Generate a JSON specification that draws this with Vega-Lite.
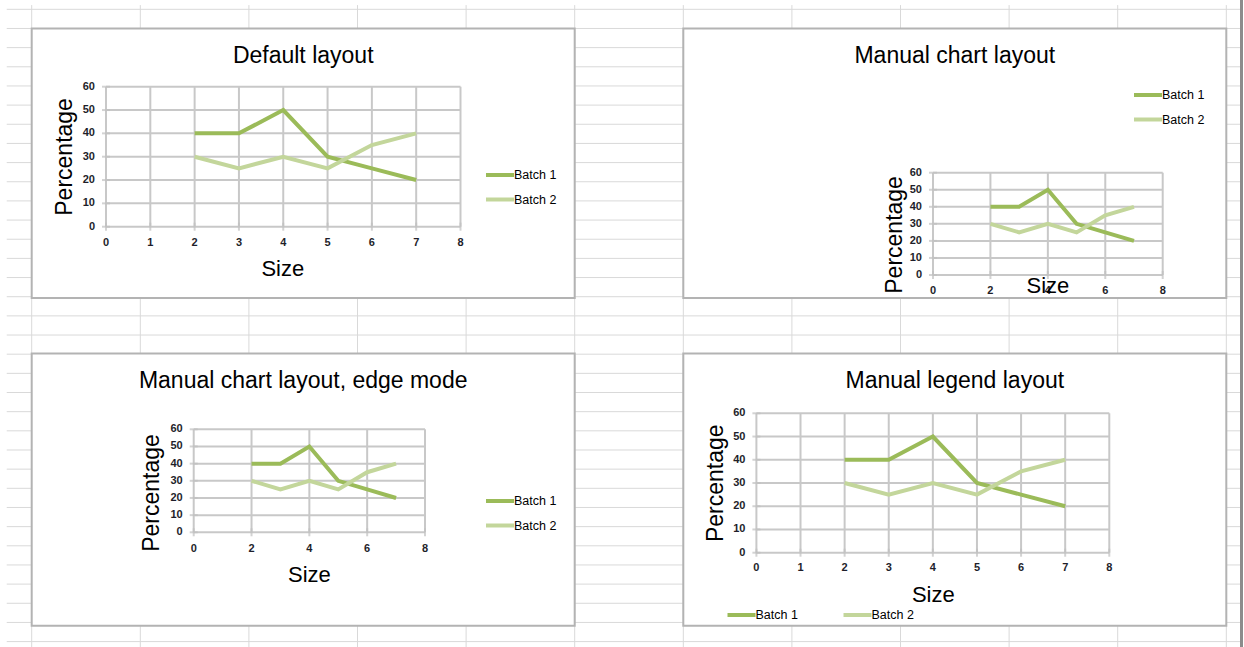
{
  "$schema": "https://vega.github.io/schema/vega-lite/v6.json",
  "width": 1244,
  "height": 647,
  "autosize": "none",
  "padding": 0,
  "background": "white",
  "config": {"view": {"stroke": null}, "font": "Liberation Sans"},
  "datasets": {
    "series": [
      {"Series": "Batch 1", "Size": 2, "Percentage": 40},
      {"Series": "Batch 1", "Size": 3, "Percentage": 40},
      {"Series": "Batch 1", "Size": 4, "Percentage": 50},
      {"Series": "Batch 1", "Size": 5, "Percentage": 30},
      {"Series": "Batch 1", "Size": 6, "Percentage": 25},
      {"Series": "Batch 1", "Size": 7, "Percentage": 20},
      {"Series": "Batch 2", "Size": 2, "Percentage": 30},
      {"Series": "Batch 2", "Size": 3, "Percentage": 25},
      {"Series": "Batch 2", "Size": 4, "Percentage": 30},
      {"Series": "Batch 2", "Size": 5, "Percentage": 25},
      {"Series": "Batch 2", "Size": 6, "Percentage": 35},
      {"Series": "Batch 2", "Size": 7, "Percentage": 40}
    ],
    "x1": [{"v": 0}, {"v": 1}, {"v": 2}, {"v": 3}, {"v": 4}, {"v": 5}, {"v": 6}, {"v": 7}, {"v": 8}],
    "x2": [{"v": 0}, {"v": 2}, {"v": 4}, {"v": 6}, {"v": 8}],
    "yv": [{"v": 0}, {"v": 10}, {"v": 20}, {"v": 30}, {"v": 40}, {"v": 50}, {"v": 60}],
    "cols": [{"col": 0}, {"col": 1}, {"col": 2}, {"col": 3}, {"col": 4}, {"col": 5}, {"col": 6}, {"col": 7}, {"col": 8}, {"col": 9}, {"col": 10}, {"col": 11}],
    "rows": [{"row": 0}, {"row": 1}, {"row": 2}, {"row": 3}, {"row": 4}, {"row": 5}, {"row": 6}, {"row": 7}, {"row": 8}, {"row": 9}, {"row": 10}, {"row": 11}, {"row": 12}, {"row": 13}, {"row": 14}, {"row": 15}, {"row": 16}, {"row": 17}, {"row": 18}, {"row": 19}, {"row": 20}, {"row": 21}, {"row": 22}, {"row": 23}, {"row": 24}, {"row": 25}, {"row": 26}, {"row": 27}, {"row": 28}, {"row": 29}, {"row": 30}, {"row": 31}, {"row": 32}, {"row": 33}],
    "boxes": [
      {"title": "Default layout", "col0": 0, "col1": 5, "row0": 1, "row1": 15.07},
      {"title": "Manual chart layout", "col0": 6, "col1": 11, "row0": 1, "row1": 15.07},
      {"title": "Manual chart layout, edge mode", "col0": 0, "col1": 5, "row0": 17.96, "row1": 32.17},
      {"title": "Manual legend layout", "col0": 6, "col1": 11, "row0": 17.96, "row1": 32.17}
    ]
  },
  "resolve": {"scale": {"x": "independent", "y": "independent", "color": "independent"}},
  "layer": [
    {
      "layer": [
        {"data": {"name": "cols"}, "mark": {"type": "rule", "color": "#d9d9d9", "strokeWidth": 1},
         "encoding": {"x": {"field": "col", "type": "quantitative", "scale": {"domain": [0, 11], "range": [31.7, 1226.3], "nice": false, "zero": false}, "axis": null},
                      "y": {"datum": -0.22, "type": "quantitative", "scale": {"domain": [0, 33], "range": [9.3, 641.6], "nice": false, "zero": false}, "axis": null},
                      "y2": {"datum": 33.3}}},
        {"data": {"name": "rows"}, "mark": {"type": "rule", "color": "#d9d9d9", "strokeWidth": 1},
         "encoding": {"y": {"field": "row", "type": "quantitative", "scale": {"domain": [0, 33], "range": [9.3, 641.6], "nice": false, "zero": false}, "axis": null},
                      "x": {"datum": -0.23, "type": "quantitative", "scale": {"domain": [0, 11], "range": [31.7, 1226.3], "nice": false, "zero": false}, "axis": null},
                      "x2": {"datum": 11.14}}},
        {"data": {"values": [{"edge": "sheet"}]}, "mark": {"type": "rule", "color": "#8c8c8c", "strokeWidth": 3},
         "encoding": {"x": {"datum": 11.14, "type": "quantitative", "scale": {"domain": [0, 11], "range": [31.7, 1226.3], "nice": false, "zero": false}, "axis": null},
                      "y": {"datum": -0.6, "type": "quantitative", "scale": {"domain": [0, 33], "range": [9.3, 641.6], "nice": false, "zero": false}, "axis": null},
                      "y2": {"datum": 33.5}}},
        {"data": {"name": "boxes"}, "mark": {"type": "rect", "fill": "white", "stroke": "#b3b3b3", "strokeWidth": 2},
         "encoding": {"x": {"field": "col0", "type": "quantitative", "scale": {"domain": [0, 11], "range": [31.7, 1226.3], "nice": false, "zero": false}, "axis": null},
                      "x2": {"field": "col1"},
                      "y": {"field": "row0", "type": "quantitative", "scale": {"domain": [0, 33], "range": [9.3, 641.6], "nice": false, "zero": false}, "axis": null},
                      "y2": {"field": "row1"}}},
        {"data": {"name": "boxes"}, "mark": {"type": "text", "fontSize": 23, "dx": 271.5, "dy": 28, "align": "center", "baseline": "middle", "color": "#000000"},
         "encoding": {"x": {"field": "col0", "type": "quantitative", "scale": {"domain": [0, 11], "range": [31.7, 1226.3], "nice": false, "zero": false}, "axis": null},
                      "y": {"field": "row0", "type": "quantitative", "scale": {"domain": [0, 33], "range": [9.3, 641.6], "nice": false, "zero": false}, "axis": null},
                      "text": {"field": "title"}}}
      ]
    },
    {
      "layer": [
        {"data": {"name": "x1"}, "mark": {"type": "rule", "color": "#c8c8c8", "strokeWidth": 2},
         "encoding": {"x": {"field": "v", "type": "quantitative", "scale": {"domain": [0, 8], "range": [106, 460.5], "nice": false, "zero": false}, "axis": null},
                      "y": {"datum": 0, "type": "quantitative", "scale": {"domain": [0, 60], "range": [226.7, 86.7], "nice": false, "zero": false}, "axis": null},
                      "y2": {"datum": 60}}},
        {"data": {"name": "yv"}, "mark": {"type": "rule", "color": "#c8c8c8", "strokeWidth": 2},
         "encoding": {"y": {"field": "v", "type": "quantitative", "scale": {"domain": [0, 60], "range": [226.7, 86.7], "nice": false, "zero": false}, "axis": null},
                      "x": {"datum": 0, "type": "quantitative", "scale": {"domain": [0, 8], "range": [106, 460.5], "nice": false, "zero": false}, "axis": null},
                      "x2": {"datum": 8}}},
        {"data": {"name": "yv"}, "mark": {"type": "tick", "orient": "horizontal", "size": 8, "thickness": 2, "color": "#c0c0c0"},
         "encoding": {"x": {"datum": 0, "type": "quantitative", "scale": {"domain": [0, 8], "range": [106, 460.5], "nice": false, "zero": false}, "axis": null},
                      "y": {"field": "v", "type": "quantitative", "scale": {"domain": [0, 60], "range": [226.7, 86.7], "nice": false, "zero": false}, "axis": null}}},
        {"data": {"name": "x1"}, "mark": {"type": "tick", "orient": "vertical", "size": 8, "thickness": 2, "color": "#c0c0c0"},
         "encoding": {"x": {"field": "v", "type": "quantitative", "scale": {"domain": [0, 8], "range": [106, 460.5], "nice": false, "zero": false}, "axis": null},
                      "y": {"datum": 0, "type": "quantitative", "scale": {"domain": [0, 60], "range": [226.7, 86.7], "nice": false, "zero": false}, "axis": null}}},
        {"data": {"name": "yv"}, "mark": {"type": "text", "align": "right", "baseline": "middle", "dx": -11, "fontSize": 11, "fontWeight": "bold", "color": "#1e1e2a"},
         "encoding": {"x": {"datum": 0, "type": "quantitative", "scale": {"domain": [0, 8], "range": [106, 460.5], "nice": false, "zero": false}, "axis": null},
                      "y": {"field": "v", "type": "quantitative", "scale": {"domain": [0, 60], "range": [226.7, 86.7], "nice": false, "zero": false}, "axis": null},
                      "text": {"field": "v", "type": "quantitative"}}},
        {"data": {"name": "x1"}, "mark": {"type": "text", "align": "center", "baseline": "middle", "dy": 16, "fontSize": 11, "fontWeight": "bold", "color": "#1e1e2a"},
         "encoding": {"x": {"field": "v", "type": "quantitative", "scale": {"domain": [0, 8], "range": [106, 460.5], "nice": false, "zero": false}, "axis": null},
                      "y": {"datum": 0, "type": "quantitative", "scale": {"domain": [0, 60], "range": [226.7, 86.7], "nice": false, "zero": false}, "axis": null},
                      "text": {"field": "v", "type": "quantitative"}}},
        {"data": {"name": "series"}, "mark": {"type": "line", "strokeWidth": 4},
         "encoding": {"x": {"field": "Size", "type": "quantitative", "scale": {"domain": [0, 8], "range": [106, 460.5], "nice": false, "zero": false}, "axis": null},
                      "y": {"field": "Percentage", "type": "quantitative", "scale": {"domain": [0, 60], "range": [226.7, 86.7], "nice": false, "zero": false}, "axis": null},
                      "color": {"field": "Series", "type": "nominal", "scale": {"domain": ["Batch 1", "Batch 2"], "range": ["#9bbb59", "#c3d69b"]},
                                "legend": {"orient": "none", "legendX": 484, "legendY": 159, "title": null, "symbolType": "stroke", "symbolSize": 784, "symbolStrokeWidth": 4, "labelOffset": -2, "labelFontSize": 12.5, "labelColor": "#000000", "rowPadding": 0.5, "padding": 0}}}},
        {"data": {"values": [{"t": "Percentage"}]}, "mark": {"type": "text", "angle": 270, "fontSize": 23, "align": "center", "baseline": "middle", "color": "#000000"},
         "encoding": {"x": {"datum": -0.925, "type": "quantitative", "scale": {"domain": [0, 8], "range": [106, 460.5], "nice": false, "zero": false}, "axis": null},
                      "y": {"datum": 29.9, "type": "quantitative", "scale": {"domain": [0, 60], "range": [226.7, 86.7], "nice": false, "zero": false}, "axis": null},
                      "text": {"field": "t"}}},
        {"data": {"values": [{"t": "Size"}]}, "mark": {"type": "text", "fontSize": 22, "align": "center", "baseline": "middle", "color": "#000000"},
         "encoding": {"x": {"datum": 3.99, "type": "quantitative", "scale": {"domain": [0, 8], "range": [106, 460.5], "nice": false, "zero": false}, "axis": null},
                      "y": {"datum": -18.1, "type": "quantitative", "scale": {"domain": [0, 60], "range": [226.7, 86.7], "nice": false, "zero": false}, "axis": null},
                      "text": {"field": "t"}}}
      ]
    },
    {
      "layer": [
        {"data": {"name": "x2"}, "mark": {"type": "rule", "color": "#c8c8c8", "strokeWidth": 2},
         "encoding": {"x": {"field": "v", "type": "quantitative", "scale": {"domain": [0, 8], "range": [933, 1162.7], "nice": false, "zero": false}, "axis": null},
                      "y": {"datum": 0, "type": "quantitative", "scale": {"domain": [0, 60], "range": [275, 172.7], "nice": false, "zero": false}, "axis": null},
                      "y2": {"datum": 60}}},
        {"data": {"name": "yv"}, "mark": {"type": "rule", "color": "#c8c8c8", "strokeWidth": 2},
         "encoding": {"y": {"field": "v", "type": "quantitative", "scale": {"domain": [0, 60], "range": [275, 172.7], "nice": false, "zero": false}, "axis": null},
                      "x": {"datum": 0, "type": "quantitative", "scale": {"domain": [0, 8], "range": [933, 1162.7], "nice": false, "zero": false}, "axis": null},
                      "x2": {"datum": 8}}},
        {"data": {"name": "yv"}, "mark": {"type": "tick", "orient": "horizontal", "size": 8, "thickness": 2, "color": "#c0c0c0"},
         "encoding": {"x": {"datum": 0, "type": "quantitative", "scale": {"domain": [0, 8], "range": [933, 1162.7], "nice": false, "zero": false}, "axis": null},
                      "y": {"field": "v", "type": "quantitative", "scale": {"domain": [0, 60], "range": [275, 172.7], "nice": false, "zero": false}, "axis": null}}},
        {"data": {"name": "x2"}, "mark": {"type": "tick", "orient": "vertical", "size": 8, "thickness": 2, "color": "#c0c0c0"},
         "encoding": {"x": {"field": "v", "type": "quantitative", "scale": {"domain": [0, 8], "range": [933, 1162.7], "nice": false, "zero": false}, "axis": null},
                      "y": {"datum": 0, "type": "quantitative", "scale": {"domain": [0, 60], "range": [275, 172.7], "nice": false, "zero": false}, "axis": null}}},
        {"data": {"name": "yv"}, "mark": {"type": "text", "align": "right", "baseline": "middle", "dx": -11, "fontSize": 11, "fontWeight": "bold", "color": "#1e1e2a"},
         "encoding": {"x": {"datum": 0, "type": "quantitative", "scale": {"domain": [0, 8], "range": [933, 1162.7], "nice": false, "zero": false}, "axis": null},
                      "y": {"field": "v", "type": "quantitative", "scale": {"domain": [0, 60], "range": [275, 172.7], "nice": false, "zero": false}, "axis": null},
                      "text": {"field": "v", "type": "quantitative"}}},
        {"data": {"name": "x2"}, "mark": {"type": "text", "align": "center", "baseline": "middle", "dy": 16, "fontSize": 11, "fontWeight": "bold", "color": "#1e1e2a"},
         "encoding": {"x": {"field": "v", "type": "quantitative", "scale": {"domain": [0, 8], "range": [933, 1162.7], "nice": false, "zero": false}, "axis": null},
                      "y": {"datum": 0, "type": "quantitative", "scale": {"domain": [0, 60], "range": [275, 172.7], "nice": false, "zero": false}, "axis": null},
                      "text": {"field": "v", "type": "quantitative"}}},
        {"data": {"name": "series"}, "mark": {"type": "line", "strokeWidth": 4},
         "encoding": {"x": {"field": "Size", "type": "quantitative", "scale": {"domain": [0, 8], "range": [933, 1162.7], "nice": false, "zero": false}, "axis": null},
                      "y": {"field": "Percentage", "type": "quantitative", "scale": {"domain": [0, 60], "range": [275, 172.7], "nice": false, "zero": false}, "axis": null},
                      "color": {"field": "Series", "type": "nominal", "scale": {"domain": ["Batch 1", "Batch 2"], "range": ["#9bbb59", "#c3d69b"]},
                                "legend": {"orient": "none", "legendX": 1132, "legendY": 79, "title": null, "symbolType": "stroke", "symbolSize": 784, "symbolStrokeWidth": 4, "labelOffset": -2, "labelFontSize": 12.5, "labelColor": "#000000", "rowPadding": 0.5, "padding": 0}}}},
        {"data": {"values": [{"t": "Percentage"}]}, "mark": {"type": "text", "angle": 270, "fontSize": 23, "align": "center", "baseline": "middle", "color": "#000000"},
         "encoding": {"x": {"datum": -1.334, "type": "quantitative", "scale": {"domain": [0, 8], "range": [933, 1162.7], "nice": false, "zero": false}, "axis": null},
                      "y": {"datum": 23.5, "type": "quantitative", "scale": {"domain": [0, 60], "range": [275, 172.7], "nice": false, "zero": false}, "axis": null},
                      "text": {"field": "t"}}},
        {"data": {"values": [{"t": "Size"}]}, "mark": {"type": "text", "fontSize": 22, "align": "center", "baseline": "middle", "color": "#000000"},
         "encoding": {"x": {"datum": 4.0, "type": "quantitative", "scale": {"domain": [0, 8], "range": [933, 1162.7], "nice": false, "zero": false}, "axis": null},
                      "y": {"datum": -6.45, "type": "quantitative", "scale": {"domain": [0, 60], "range": [275, 172.7], "nice": false, "zero": false}, "axis": null},
                      "text": {"field": "t"}}}
      ]
    },
    {
      "layer": [
        {"data": {"name": "x2"}, "mark": {"type": "rule", "color": "#c8c8c8", "strokeWidth": 2},
         "encoding": {"x": {"field": "v", "type": "quantitative", "scale": {"domain": [0, 8], "range": [193.7, 425], "nice": false, "zero": false}, "axis": null},
                      "y": {"datum": 0, "type": "quantitative", "scale": {"domain": [0, 60], "range": [532.3, 429.3], "nice": false, "zero": false}, "axis": null},
                      "y2": {"datum": 60}}},
        {"data": {"name": "yv"}, "mark": {"type": "rule", "color": "#c8c8c8", "strokeWidth": 2},
         "encoding": {"y": {"field": "v", "type": "quantitative", "scale": {"domain": [0, 60], "range": [532.3, 429.3], "nice": false, "zero": false}, "axis": null},
                      "x": {"datum": 0, "type": "quantitative", "scale": {"domain": [0, 8], "range": [193.7, 425], "nice": false, "zero": false}, "axis": null},
                      "x2": {"datum": 8}}},
        {"data": {"name": "yv"}, "mark": {"type": "tick", "orient": "horizontal", "size": 8, "thickness": 2, "color": "#c0c0c0"},
         "encoding": {"x": {"datum": 0, "type": "quantitative", "scale": {"domain": [0, 8], "range": [193.7, 425], "nice": false, "zero": false}, "axis": null},
                      "y": {"field": "v", "type": "quantitative", "scale": {"domain": [0, 60], "range": [532.3, 429.3], "nice": false, "zero": false}, "axis": null}}},
        {"data": {"name": "x2"}, "mark": {"type": "tick", "orient": "vertical", "size": 8, "thickness": 2, "color": "#c0c0c0"},
         "encoding": {"x": {"field": "v", "type": "quantitative", "scale": {"domain": [0, 8], "range": [193.7, 425], "nice": false, "zero": false}, "axis": null},
                      "y": {"datum": 0, "type": "quantitative", "scale": {"domain": [0, 60], "range": [532.3, 429.3], "nice": false, "zero": false}, "axis": null}}},
        {"data": {"name": "yv"}, "mark": {"type": "text", "align": "right", "baseline": "middle", "dx": -11, "fontSize": 11, "fontWeight": "bold", "color": "#1e1e2a"},
         "encoding": {"x": {"datum": 0, "type": "quantitative", "scale": {"domain": [0, 8], "range": [193.7, 425], "nice": false, "zero": false}, "axis": null},
                      "y": {"field": "v", "type": "quantitative", "scale": {"domain": [0, 60], "range": [532.3, 429.3], "nice": false, "zero": false}, "axis": null},
                      "text": {"field": "v", "type": "quantitative"}}},
        {"data": {"name": "x2"}, "mark": {"type": "text", "align": "center", "baseline": "middle", "dy": 17, "fontSize": 11, "fontWeight": "bold", "color": "#1e1e2a"},
         "encoding": {"x": {"field": "v", "type": "quantitative", "scale": {"domain": [0, 8], "range": [193.7, 425], "nice": false, "zero": false}, "axis": null},
                      "y": {"datum": 0, "type": "quantitative", "scale": {"domain": [0, 60], "range": [532.3, 429.3], "nice": false, "zero": false}, "axis": null},
                      "text": {"field": "v", "type": "quantitative"}}},
        {"data": {"name": "series"}, "mark": {"type": "line", "strokeWidth": 4},
         "encoding": {"x": {"field": "Size", "type": "quantitative", "scale": {"domain": [0, 8], "range": [193.7, 425], "nice": false, "zero": false}, "axis": null},
                      "y": {"field": "Percentage", "type": "quantitative", "scale": {"domain": [0, 60], "range": [532.3, 429.3], "nice": false, "zero": false}, "axis": null},
                      "color": {"field": "Series", "type": "nominal", "scale": {"domain": ["Batch 1", "Batch 2"], "range": ["#9bbb59", "#c3d69b"]},
                                "legend": {"orient": "none", "legendX": 484, "legendY": 485, "title": null, "symbolType": "stroke", "symbolSize": 784, "symbolStrokeWidth": 4, "labelOffset": -2, "labelFontSize": 12.5, "labelColor": "#000000", "rowPadding": 0.5, "padding": 0}}}},
        {"data": {"values": [{"t": "Percentage"}]}, "mark": {"type": "text", "angle": 270, "fontSize": 23, "align": "center", "baseline": "middle", "color": "#000000"},
         "encoding": {"x": {"datum": -1.44, "type": "quantitative", "scale": {"domain": [0, 8], "range": [193.7, 425], "nice": false, "zero": false}, "axis": null},
                      "y": {"datum": 22.9, "type": "quantitative", "scale": {"domain": [0, 60], "range": [532.3, 429.3], "nice": false, "zero": false}, "axis": null},
                      "text": {"field": "t"}}},
        {"data": {"values": [{"t": "Size"}]}, "mark": {"type": "text", "fontSize": 22, "align": "center", "baseline": "middle", "color": "#000000"},
         "encoding": {"x": {"datum": 4.0, "type": "quantitative", "scale": {"domain": [0, 8], "range": [193.7, 425], "nice": false, "zero": false}, "axis": null},
                      "y": {"datum": -24.9, "type": "quantitative", "scale": {"domain": [0, 60], "range": [532.3, 429.3], "nice": false, "zero": false}, "axis": null},
                      "text": {"field": "t"}}}
      ]
    },
    {
      "layer": [
        {"data": {"name": "x1"}, "mark": {"type": "rule", "color": "#c8c8c8", "strokeWidth": 2},
         "encoding": {"x": {"field": "v", "type": "quantitative", "scale": {"domain": [0, 8], "range": [756.4, 1109.3], "nice": false, "zero": false}, "axis": null},
                      "y": {"datum": 0, "type": "quantitative", "scale": {"domain": [0, 60], "range": [552.7, 413.3], "nice": false, "zero": false}, "axis": null},
                      "y2": {"datum": 60}}},
        {"data": {"name": "yv"}, "mark": {"type": "rule", "color": "#c8c8c8", "strokeWidth": 2},
         "encoding": {"y": {"field": "v", "type": "quantitative", "scale": {"domain": [0, 60], "range": [552.7, 413.3], "nice": false, "zero": false}, "axis": null},
                      "x": {"datum": 0, "type": "quantitative", "scale": {"domain": [0, 8], "range": [756.4, 1109.3], "nice": false, "zero": false}, "axis": null},
                      "x2": {"datum": 8}}},
        {"data": {"name": "yv"}, "mark": {"type": "tick", "orient": "horizontal", "size": 8, "thickness": 2, "color": "#c0c0c0"},
         "encoding": {"x": {"datum": 0, "type": "quantitative", "scale": {"domain": [0, 8], "range": [756.4, 1109.3], "nice": false, "zero": false}, "axis": null},
                      "y": {"field": "v", "type": "quantitative", "scale": {"domain": [0, 60], "range": [552.7, 413.3], "nice": false, "zero": false}, "axis": null}}},
        {"data": {"name": "x1"}, "mark": {"type": "tick", "orient": "vertical", "size": 8, "thickness": 2, "color": "#c0c0c0"},
         "encoding": {"x": {"field": "v", "type": "quantitative", "scale": {"domain": [0, 8], "range": [756.4, 1109.3], "nice": false, "zero": false}, "axis": null},
                      "y": {"datum": 0, "type": "quantitative", "scale": {"domain": [0, 60], "range": [552.7, 413.3], "nice": false, "zero": false}, "axis": null}}},
        {"data": {"name": "yv"}, "mark": {"type": "text", "align": "right", "baseline": "middle", "dx": -11, "fontSize": 11, "fontWeight": "bold", "color": "#1e1e2a"},
         "encoding": {"x": {"datum": 0, "type": "quantitative", "scale": {"domain": [0, 8], "range": [756.4, 1109.3], "nice": false, "zero": false}, "axis": null},
                      "y": {"field": "v", "type": "quantitative", "scale": {"domain": [0, 60], "range": [552.7, 413.3], "nice": false, "zero": false}, "axis": null},
                      "text": {"field": "v", "type": "quantitative"}}},
        {"data": {"name": "x1"}, "mark": {"type": "text", "align": "center", "baseline": "middle", "dy": 15, "fontSize": 11, "fontWeight": "bold", "color": "#1e1e2a"},
         "encoding": {"x": {"field": "v", "type": "quantitative", "scale": {"domain": [0, 8], "range": [756.4, 1109.3], "nice": false, "zero": false}, "axis": null},
                      "y": {"datum": 0, "type": "quantitative", "scale": {"domain": [0, 60], "range": [552.7, 413.3], "nice": false, "zero": false}, "axis": null},
                      "text": {"field": "v", "type": "quantitative"}}},
        {"data": {"name": "series"}, "mark": {"type": "line", "strokeWidth": 4},
         "encoding": {"x": {"field": "Size", "type": "quantitative", "scale": {"domain": [0, 8], "range": [756.4, 1109.3], "nice": false, "zero": false}, "axis": null},
                      "y": {"field": "Percentage", "type": "quantitative", "scale": {"domain": [0, 60], "range": [552.7, 413.3], "nice": false, "zero": false}, "axis": null},
                      "color": {"field": "Series", "type": "nominal", "scale": {"domain": ["Batch 1", "Batch 2"], "range": ["#9bbb59", "#c3d69b"]},
                                "legend": {"orient": "none", "direction": "horizontal", "legendX": 725.5, "legendY": 599, "title": null, "symbolType": "stroke", "symbolSize": 784, "symbolStrokeWidth": 4, "labelOffset": -2, "labelFontSize": 12.5, "labelColor": "#000000", "columnPadding": 37, "padding": 0}}}},
        {"data": {"values": [{"t": "Percentage"}]}, "mark": {"type": "text", "angle": 270, "fontSize": 23, "align": "center", "baseline": "middle", "color": "#000000"},
         "encoding": {"x": {"datum": -0.916, "type": "quantitative", "scale": {"domain": [0, 8], "range": [756.4, 1109.3], "nice": false, "zero": false}, "axis": null},
                      "y": {"datum": 29.9, "type": "quantitative", "scale": {"domain": [0, 60], "range": [552.7, 413.3], "nice": false, "zero": false}, "axis": null},
                      "text": {"field": "t"}}},
        {"data": {"values": [{"t": "Size"}]}, "mark": {"type": "text", "fontSize": 22, "align": "center", "baseline": "middle", "color": "#000000"},
         "encoding": {"x": {"datum": 4.01, "type": "quantitative", "scale": {"domain": [0, 8], "range": [756.4, 1109.3], "nice": false, "zero": false}, "axis": null},
                      "y": {"datum": -18.2, "type": "quantitative", "scale": {"domain": [0, 60], "range": [552.7, 413.3], "nice": false, "zero": false}, "axis": null},
                      "text": {"field": "t"}}}
      ]
    }
  ]
}
